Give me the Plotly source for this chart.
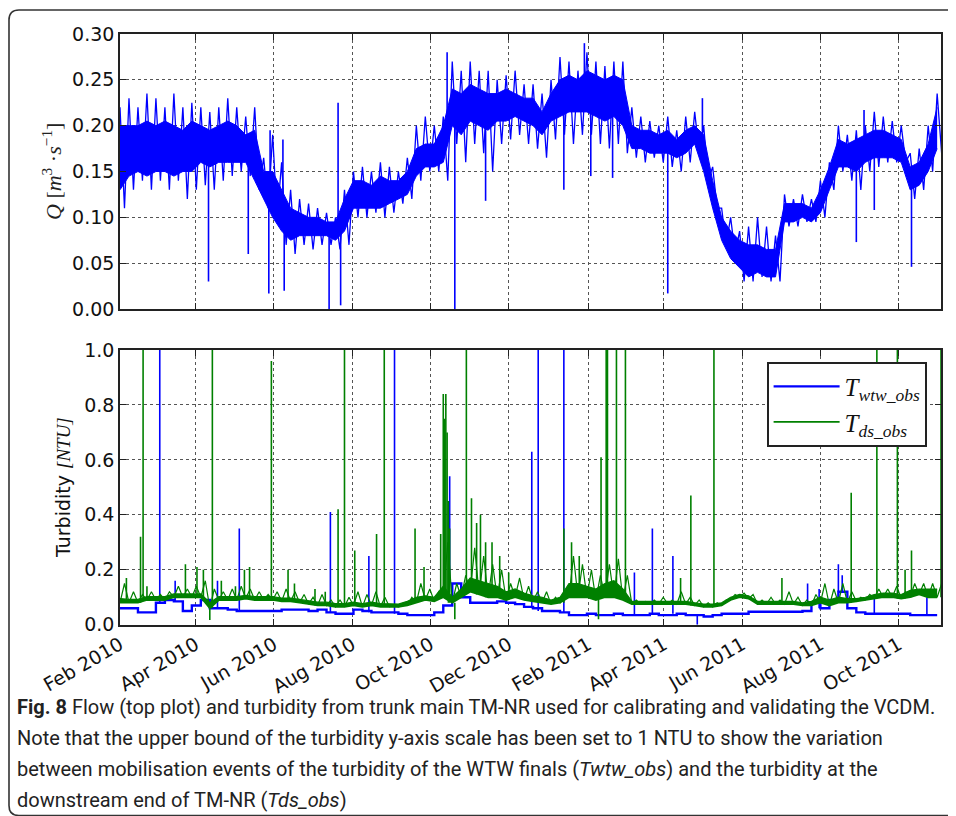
import pandas as pd
import plotly.graph_objects as go

# ---------------- data ----------------
start_date = "2010-02-01"
n_weeks = 92
end_date = "2011-11-03"

# Flow Q [m3/s], weekly: dense core of the noisy band
q_dense_hi = [0.20,0.20,0.20,0.205,0.20,0.205,0.20,0.195,0.205,0.20,0.195,0.20,0.205,0.20,0.19,
              0.195,0.15,0.15,0.13,0.11,0.105,0.10,0.10,0.095,0.095,0.12,0.14,0.14,0.135,0.145,
              0.14,0.14,0.15,0.175,0.18,0.18,0.20,0.24,0.235,0.245,0.24,0.235,0.235,0.24,0.235,
              0.23,0.23,0.215,0.235,0.25,0.255,0.25,0.26,0.255,0.25,0.255,0.25,0.20,0.195,0.195,
              0.19,0.195,0.185,0.195,0.20,0.19,0.14,0.10,0.085,0.075,0.07,0.07,0.065,0.065,0.115,
              0.115,0.115,0.11,0.13,0.155,0.185,0.18,0.185,0.19,0.195,0.195,0.19,0.185,0.155,0.16,
              0.18,0.22]
q_dense_lo = [0.13,0.145,0.15,0.145,0.15,0.15,0.145,0.15,0.15,0.16,0.155,0.16,0.16,0.16,0.16,
              0.14,0.12,0.10,0.085,0.075,0.08,0.08,0.08,0.08,0.075,0.085,0.11,0.11,0.11,0.11,
              0.115,0.12,0.125,0.145,0.155,0.155,0.16,0.20,0.19,0.205,0.20,0.195,0.205,0.205,0.21,
              0.205,0.20,0.19,0.205,0.21,0.215,0.215,0.215,0.21,0.205,0.21,0.20,0.175,0.175,0.17,
              0.17,0.17,0.165,0.17,0.18,0.15,0.11,0.075,0.055,0.045,0.035,0.04,0.035,0.035,0.095,
              0.095,0.10,0.095,0.105,0.13,0.155,0.155,0.15,0.16,0.165,0.165,0.165,0.16,0.13,0.135,
              0.15,0.175]
# Flow Q, weekly: outer ragged edge of the band
q_outer_hi = [0.22,0.23,0.22,0.235,0.23,0.22,0.235,0.22,0.225,0.22,0.215,0.22,0.23,0.22,0.21,
              0.22,0.165,0.19,0.16,0.13,0.12,0.115,0.11,0.105,0.10,0.13,0.15,0.155,0.15,0.16,
              0.155,0.15,0.165,0.20,0.21,0.20,0.21,0.27,0.26,0.27,0.26,0.26,0.25,0.255,0.26,
              0.245,0.245,0.235,0.25,0.275,0.27,0.26,0.28,0.27,0.265,0.27,0.27,0.22,0.21,0.205,
              0.20,0.21,0.195,0.21,0.215,0.20,0.155,0.11,0.10,0.085,0.09,0.10,0.09,0.08,0.125,
              0.12,0.125,0.12,0.14,0.16,0.20,0.19,0.195,0.20,0.215,0.21,0.205,0.20,0.17,0.175,
              0.20,0.235]
q_outer_lo = [0.11,0.13,0.14,0.13,0.14,0.13,0.14,0.12,0.13,0.135,0.13,0.14,0.145,0.15,0.145,
              0.13,0.11,0.10,0.07,0.06,0.07,0.065,0.07,0.07,0.065,0.07,0.10,0.10,0.105,0.10,
              0.105,0.115,0.12,0.14,0.15,0.15,0.14,0.18,0.16,0.18,0.17,0.15,0.18,0.185,0.19,
              0.18,0.175,0.165,0.185,0.19,0.18,0.19,0.19,0.18,0.175,0.18,0.17,0.165,0.16,0.165,
              0.16,0.155,0.15,0.16,0.17,0.14,0.11,0.07,0.06,0.03,0.03,0.035,0.03,0.03,0.09,
              0.09,0.095,0.095,0.10,0.13,0.15,0.14,0.13,0.15,0.155,0.16,0.16,0.16,0.12,0.13,
              0.15,0.17]
# isolated flow spikes (days after start, value)
q_spike_day = [69, 100, 116, 117, 127, 128, 163, 170, 172, 255, 261, 285, 346, 362, 367,
               384, 427, 454, 574, 580, 588, 617]
q_spike_val = [0.03, 0.06, 0.017, 0.195, 0.185, 0.02, 0.0, 0.225, 0.004, 0.28, 0.0, 0.118,
               0.13, 0.29, 0.145, 0.143, 0.017, 0.23, 0.073, 0.217, 0.108, 0.046]

# Turbidity of WTW finals (blue): weekly baseline
twtw_base = [0.06,0.06,0.045,0.045,0.08,0.09,0.085,0.05,0.07,0.09,0.06,0.06,0.055,0.05,0.05,
             0.05,0.05,0.05,0.055,0.055,0.055,0.05,0.055,0.045,0.04,0.04,0.055,0.05,0.045,0.045,
             0.045,0.04,0.035,0.035,0.035,0.045,0.07,0.15,0.10,0.08,0.08,0.08,0.085,0.08,0.075,
             0.065,0.06,0.05,0.05,0.045,0.035,0.035,0.04,0.035,0.035,0.04,0.035,0.035,0.035,0.04,
             0.035,0.035,0.04,0.035,0.035,0.03,0.035,0.04,0.04,0.04,0.047,0.047,0.047,0.047,0.047,
             0.047,0.05,0.08,0.06,0.09,0.12,0.06,0.045,0.04,0.04,0.04,0.04,0.04,0.035,0.035,
             0.035,0.035]
twtw_spike_day = [31, 43, 76, 93, 164, 194, 214, 257, 321, 326, 346, 401, 415, 431, 450,
                  536, 545, 560, 563, 588, 629]
twtw_spike_val = [1.0, 0.16, 0.16, 0.35, 0.41, 0.25, 1.0, 0.54, 0.63, 1.0, 1.0, 0.19, 0.35,
                  0.25, 0.0, 0.15, 0.13, 0.22, 0.18, 0.10, 0.10]

# Turbidity downstream (green), weekly: baseline, dense top, outer noise top
tds_base = [0.08,0.08,0.08,0.09,0.09,0.09,0.10,0.10,0.10,0.10,0.06,0.09,0.09,0.09,0.095,
            0.09,0.09,0.09,0.085,0.085,0.08,0.075,0.07,0.07,0.065,0.065,0.07,0.065,0.07,0.065,
            0.065,0.065,0.07,0.08,0.09,0.085,0.10,0.08,0.10,0.12,0.11,0.10,0.10,0.09,0.10,
            0.09,0.085,0.08,0.075,0.08,0.10,0.10,0.10,0.09,0.10,0.10,0.09,0.075,0.075,0.075,
            0.075,0.075,0.075,0.075,0.07,0.065,0.065,0.07,0.09,0.10,0.095,0.075,0.075,0.075,0.075,
            0.075,0.07,0.07,0.08,0.07,0.08,0.08,0.085,0.09,0.095,0.10,0.10,0.095,0.10,0.11,
            0.10,0.10]
tds_dense_hi = [0.095,0.092,0.092,0.102,0.102,0.102,0.112,0.112,0.112,0.112,0.08,0.102,0.102,0.102,0.107,
                0.102,0.102,0.102,0.097,0.097,0.092,0.087,0.082,0.082,0.077,0.077,0.082,0.077,0.082,0.077,
                0.075,0.075,0.085,0.10,0.105,0.10,0.14,0.10,0.13,0.17,0.16,0.15,0.14,0.12,0.13,
                0.115,0.105,0.10,0.09,0.10,0.15,0.15,0.14,0.13,0.15,0.16,0.13,0.085,0.085,0.085,
                0.085,0.085,0.085,0.085,0.08,0.075,0.075,0.08,0.10,0.11,0.105,0.085,0.085,0.085,0.085,
                0.085,0.08,0.085,0.10,0.09,0.10,0.095,0.095,0.10,0.11,0.115,0.115,0.11,0.125,0.13,
                0.13,0.13]
tds_outer_hi = [0.15,0.12,0.11,0.12,0.11,0.12,0.14,0.13,0.14,0.16,0.13,0.12,0.13,0.14,0.13,
                0.12,0.11,0.12,0.13,0.12,0.11,0.10,0.11,0.09,0.09,0.10,0.12,0.11,0.12,0.10,
                0.07,0.07,0.10,0.15,0.13,0.12,0.30,0.15,0.18,0.28,0.25,0.22,0.20,0.15,0.17,
                0.14,0.12,0.12,0.10,0.12,0.25,0.22,0.20,0.18,0.22,0.24,0.18,0.09,0.085,0.09,
                0.10,0.09,0.12,0.10,0.09,0.08,0.08,0.09,0.11,0.115,0.11,0.09,0.10,0.09,0.12,
                0.10,0.09,0.11,0.15,0.13,0.15,0.12,0.10,0.11,0.13,0.13,0.14,0.12,0.15,0.15,
                0.15,0.15]
tds_spike_day = [5, 16, 18, 21, 51, 60, 65, 70, 72, 79, 90, 97, 101, 118, 131, 136, 152, 160,
                 170, 175, 183, 200, 206, 230, 237, 250, 252, 253, 254, 255, 256, 257, 261,
                 270, 274, 278, 281, 285, 290, 296, 303, 346, 352, 358, 373, 375, 379, 380,
                 387, 394, 437, 445, 463, 516, 570, 590, 606, 612, 617, 640]
tds_spike_val = [0.17, 0.32, 1.0, 0.14, 0.22, 0.21, 0.20, 0.017, 1.0, 0.16, 0.14, 0.20, 0.21,
                 0.96, 0.20, 0.15, 0.13, 0.12, 0.42, 1.0, 0.27, 0.33, 1.0, 0.35, 0.21, 0.33,
                 0.84, 0.75, 0.84, 0.70, 0.45, 0.35, 0.02, 1.0, 0.46, 0.37, 0.40, 0.30, 0.30,
                 0.25, 0.19, 0.35, 0.30, 0.25, 0.02, 0.61, 1.0, 1.0, 1.0, 1.0, 0.17, 0.47, 1.0,
                 0.17, 0.48, 1.0, 1.0, 0.20, 0.27, 1.0]

q_ticks = [0.00, 0.05, 0.10, 0.15, 0.20, 0.25, 0.30]
t_ticks = [0.0, 0.2, 0.4, 0.6, 0.8, 1.0]

caption_lines = [
    "<b>Fig. 8</b> Flow (top plot) and turbidity from trunk main TM-NR used for calibrating and validating the VCDM.",
    "Note that the upper bound of the turbidity y-axis scale has been set to 1 NTU to show the variation",
    "between mobilisation events of the turbidity of the WTW finals (<i>Twtw_obs</i>) and the turbidity at the",
    "downstream end of TM-NR (<i>Tds_obs</i>)",
]

# ---------------- helpers ----------------
t0 = pd.Timestamp(start_date)
weeks = list(pd.date_range(start_date, periods=n_weeks, freq="7D"))
half_week = pd.Timedelta(hours=84)


def zigzag(first, second):
    xs, ys = [], []
    for d, a, b in zip(weeks, first, second):
        xs += [d, d + half_week]
        ys += [a, b]
    return xs, ys


def spikes(days, vals, base):
    xs, ys = [], []
    for dd, v in zip(days, vals):
        t = t0 + pd.Timedelta(days=dd)
        k = min(max(int(round(dd / 7)), 0), n_weeks - 1)
        xs += [t, t, None]
        ys += [base[k], v, None]
    return xs, ys


# page has an 8px body margin: figure is 948x808 placed at (8, 8) of the window
OFF = 8
W, H = 956 - OFF, 816 - OFF


def PX(px):
    return (px - OFF) / W


def PY(py):
    return 1 - (py - OFF) / H


BLUE = "#0000ff"
GREEN = "#008000"
TICKFONT = dict(family="DejaVu Sans", size=19, color="#111")
NOHOVER = dict(hoverinfo="skip")

fig = go.Figure()

# ---- flow ----
fig.add_trace(go.Scatter(x=weeks, y=q_dense_lo, mode="lines", line=dict(color=BLUE, width=1),
                         xaxis="x", yaxis="y", showlegend=False, **NOHOVER))
fig.add_trace(go.Scatter(x=weeks, y=q_dense_hi, mode="lines", line=dict(color=BLUE, width=1),
                         fill="tonexty", fillcolor=BLUE,
                         xaxis="x", yaxis="y", showlegend=False, **NOHOVER))
zx, zy = zigzag(q_outer_hi, q_outer_lo)
fig.add_trace(go.Scatter(x=zx, y=zy, mode="lines", line=dict(color=BLUE, width=1.3),
                         xaxis="x", yaxis="y", showlegend=False, **NOHOVER))
q_mid = [(a + b) / 2 for a, b in zip(q_dense_hi, q_dense_lo)]
sx, sy = spikes(q_spike_day, q_spike_val, q_mid)
fig.add_trace(go.Scatter(x=sx, y=sy, mode="lines", line=dict(color=BLUE, width=1.6),
                         xaxis="x", yaxis="y", showlegend=False, **NOHOVER))

# ---- turbidity WTW (blue) ----
bx, by = spikes(twtw_spike_day, twtw_spike_val, twtw_base)
fig.add_trace(go.Scatter(x=bx, y=by, mode="lines", line=dict(color=BLUE, width=1.6),
                         xaxis="x2", yaxis="y2", showlegend=False, legendgroup="w", **NOHOVER))
fig.add_trace(go.Scatter(x=weeks, y=twtw_base, mode="lines",
                         line=dict(color=BLUE, width=2.4, shape="hv"),
                         xaxis="x2", yaxis="y2", name="<i>T</i><sub><i>wtw_obs</i></sub>",
                         legendgroup="w", **NOHOVER))

# ---- turbidity downstream (green) ----
gx, gy = spikes(tds_spike_day, tds_spike_val, tds_base)
fig.add_trace(go.Scatter(x=gx, y=gy, mode="lines", line=dict(color=GREEN, width=1.6),
                         xaxis="x2", yaxis="y2", showlegend=False, legendgroup="d", **NOHOVER))
zgx, zgy = zigzag(tds_base, tds_outer_hi)
fig.add_trace(go.Scatter(x=zgx, y=zgy, mode="lines", line=dict(color=GREEN, width=1.2),
                         xaxis="x2", yaxis="y2", showlegend=False, legendgroup="d", **NOHOVER))
fig.add_trace(go.Scatter(x=weeks, y=tds_base, mode="lines", line=dict(color=GREEN, width=1.8),
                         xaxis="x2", yaxis="y2", name="<i>T</i><sub><i>ds_obs</i></sub>",
                         legendgroup="d", **NOHOVER))
fig.add_trace(go.Scatter(x=weeks, y=tds_dense_hi, mode="lines", line=dict(color=GREEN, width=1.2),
                         fill="tonexty", fillcolor=GREEN,
                         xaxis="x2", yaxis="y2", showlegend=False, legendgroup="d", **NOHOVER))

xdom = [PX(120), PX(941)]
ydom_top = [PY(309), PY(34)]
ydom_bot = [PY(624.7), PY(350)]

common_x = dict(range=[start_date, end_date], tick0=start_date, dtick="M2",
                showline=True, linecolor="#222", linewidth=1.6, mirror="allticks",
                ticks="inside", ticklen=6, tickcolor="#222", showgrid=True,
                gridcolor="#555", griddash="dot", gridwidth=1, zeroline=False,
                tickfont=TICKFONT, automargin=False)
common_y = dict(showline=True, linecolor="#222", linewidth=1.6, mirror="allticks",
                ticks="inside", ticklen=6, tickcolor="#222", showgrid=True,
                gridcolor="#555", griddash="dot", gridwidth=1, zeroline=False,
                tickfont=TICKFONT, automargin=False)

fig.update_layout(
    width=W, height=H, margin=dict(l=0, r=0, t=0, b=0, autoexpand=False),
    paper_bgcolor="white", plot_bgcolor="white",
    xaxis=dict(domain=xdom, anchor="y", showticklabels=False, **common_x),
    yaxis=dict(domain=ydom_top, anchor="x", range=[0, 0.30], tickvals=q_ticks,
               tickformat=".2f", **common_y),
    xaxis2=dict(domain=xdom, anchor="y2", showticklabels=True, tickformat="%b %Y",
                tickangle=-30, **common_x),
    yaxis2=dict(domain=ydom_bot, anchor="x2", range=[0, 1.0], tickvals=t_ticks,
                tickformat=".1f", **common_y),
    legend=dict(x=PX(767), y=PY(362), xanchor="left", yanchor="top",
                bgcolor="white", bordercolor="#222", borderwidth=1.6,
                font=dict(family="Liberation Serif", size=25, color="#111"),
                traceorder="normal", itemwidth=66, tracegroupgap=4),
    showlegend=True,
)

annotations = [
    dict(x=PX(52), y=PY(172), xref="paper", yref="paper", textangle=-90,
         xanchor="center", yanchor="middle",
         text="<i>Q</i> [<i>m</i><sup>3</sup> ·<i>s</i><sup>−1</sup>]", showarrow=False,
         font=dict(family="Liberation Serif", size=22, color="#222")),
    dict(x=PX(63), y=PY(488), xref="paper", yref="paper", textangle=-90,
         xanchor="center", yanchor="middle",
         text="Turbidity <span style='font-family:Liberation Serif'><i>[NTU]</i></span>",
         showarrow=False, font=dict(family="DejaVu Sans", size=19, color="#111")),
]
caption_y = [707, 738, 769, 800]
for line, yy in zip(caption_lines, caption_y):
    annotations.append(dict(x=PX(15), y=PY(yy), xref="paper", yref="paper",
                            xanchor="left", yanchor="middle", text=line, showarrow=False,
                            font=dict(family="Roboto, sans-serif", size=20, color="#222")))
fig.update_layout(annotations=annotations)

# rounded frame around figure + caption (bottom edge sits at the window edge)
x0, y0, x1, y1, r = 9, 10, 975, 815.5, 10


def P(px, py):
    return f"{PX(px):.5f},{PY(py):.5f}"


path = (f"M {P(x0, y0 + r)} Q {P(x0, y0)} {P(x0 + r, y0)} L {P(x1 - r, y0)} "
        f"Q {P(x1, y0)} {P(x1, y0 + r)} L {P(x1, y1 - r)} Q {P(x1, y1)} {P(x1 - r, y1)} "
        f"L {P(x0 + r, y1)} Q {P(x0, y1)} {P(x0, y1 - r)} Z")
fig.add_shape(type="path", path=path, xref="paper", yref="paper",
              line=dict(color="#333", width=1.6), layer="below")

fig.write_html("out.html")
